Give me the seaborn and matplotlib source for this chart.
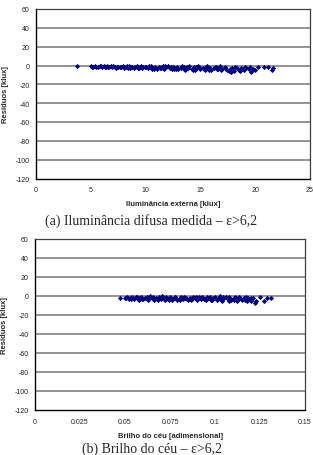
import matplotlib
matplotlib.use("Agg")
import matplotlib.pyplot as plt
import seaborn as sns
import pandas as pd

# ---- data ----
x_top = [3.7, 5.0, 5.2, 5.4, 5.5, 5.7, 5.9, 6.0, 6.2, 6.4,
         6.5, 6.7, 6.9, 7.0, 7.2, 7.4, 7.5, 7.7, 7.9, 8.0,
         8.2, 8.4, 8.5, 8.7, 8.9, 9.0, 9.2, 9.4, 9.5, 9.7,
         9.9, 10.0, 10.2, 10.4, 10.5, 10.7, 10.9, 11.0, 11.2, 11.4,
         11.5, 11.7, 11.9, 12.0, 12.2, 12.4, 12.5, 12.7, 12.9, 13.0,
         13.2, 13.4, 13.5, 13.7, 13.9, 14.0, 14.2, 14.4, 14.5, 14.7,
         14.9, 15.0, 15.2, 15.4, 15.5, 15.7, 15.9, 16.0, 16.2, 16.4,
         16.5, 16.7, 16.9, 17.0, 17.2, 17.4, 17.6, 17.8, 17.9, 18.1,
         18.3, 18.5, 18.6, 18.8, 19.0, 19.2, 19.4, 19.6, 19.8, 20.0,
         20.3, 20.8, 21.2, 21.5, 21.6,
         5.1, 5.8, 6.3, 6.8, 7.3, 7.8, 8.3, 8.8, 9.3, 9.8,
         10.3, 10.8, 11.3, 11.8, 12.3, 12.8, 13.3, 13.8, 14.3, 14.8,
         15.3, 15.8, 16.3, 16.8, 17.3, 17.7, 18.2, 18.7, 19.1, 19.5,
         6.6, 8.6, 10.6, 12.6, 14.6, 16.6, 9.6, 11.6, 13.6, 15.6]
y_top = [-0.3, -0.8, -1.3, -0.6, -1.1, -1.5, -0.9, -1.2, -0.7, -1.6,
         -1.0, -1.8, -1.2, -0.6, -1.5, -2.0, -1.1, -1.7, -0.8, -2.2,
         -1.4, -2.4, -1.0, -1.9, -2.6, -1.3, -0.7, -2.3, -1.7, -2.8,
         -1.1, -2.1, -3.0, -1.5, -0.8, -2.5, -1.9, -3.2, -1.2, -2.7,
         -2.0, -3.4, -1.5, -0.9, -2.6, -3.6, -1.8, -2.9, -1.2, -3.8,
         -2.3, -3.1, -1.6, -4.0, -2.7, -1.0, -3.4, -2.1, -4.3, -3.0,
         -1.8, -3.7, -2.5, -4.5, -1.3, -3.3, -2.2, -4.7, -3.0, -1.6,
         -4.0, -2.6, -5.0, -3.4, -1.9, -4.4, -6.0, -7.2, -3.0, -5.5,
         -2.2, -4.6, -6.3, -3.5, -5.2, -2.5, -4.0, -6.5, -3.3, -4.8,
         -2.0, -1.2, -1.8, -5.2, -3.0,
         -1.6, -0.5, -1.9, -0.9, -2.3, -1.3, -0.6, -1.6, -3.0, -2.0,
         -0.6, -3.4, -2.4, -0.7, -1.6, -4.0, -0.8, -2.0, -4.8, -0.9,
         -3.9, -5.2, -2.0, -0.8, -3.2, -4.2, -1.5, -2.8, -1.2, -2.0,
         -2.1, -2.8, -3.6, -4.2, -1.2, -3.6, -0.5, -1.0, -4.6, -0.7]

x_bot = [0.047, 0.050, 0.051, 0.052, 0.053, 0.054, 0.055, 0.056, 0.057, 0.058,
         0.059, 0.060, 0.061, 0.062, 0.063, 0.064, 0.065, 0.066, 0.067, 0.068,
         0.069, 0.070, 0.071, 0.072, 0.073, 0.074, 0.075, 0.076, 0.077, 0.078,
         0.079, 0.080, 0.081, 0.082, 0.083, 0.084, 0.085, 0.086, 0.087, 0.088,
         0.089, 0.090, 0.091, 0.092, 0.093, 0.094, 0.095, 0.096, 0.097, 0.098,
         0.099, 0.100, 0.101, 0.102, 0.103, 0.104, 0.105, 0.106, 0.107, 0.108,
         0.109, 0.110, 0.111, 0.112, 0.113, 0.114, 0.115, 0.116, 0.117, 0.118,
         0.119, 0.120, 0.120, 0.121, 0.122, 0.123, 0.125, 0.127, 0.129, 0.131,
         0.0505, 0.0535, 0.0565, 0.0595, 0.0625, 0.0655, 0.0685, 0.0715, 0.0745, 0.0775,
         0.0805, 0.0835, 0.0865, 0.0895, 0.0925, 0.0955, 0.0985, 0.1015, 0.1045, 0.1075,
         0.1105, 0.1135, 0.1165, 0.1185, 0.0575, 0.0705, 0.0845, 0.0945, 0.1025, 0.1125]
y_bot = [-1.6, -2.5, -1.0, -3.0, -1.8, -0.6, -2.7, -1.4, -3.3, -2.0,
         -0.8, -3.6, -2.3, -1.2, -3.0, -0.5, -2.6, -3.9, -1.6, -2.9,
         -0.9, -3.4, -2.1, -4.0, -1.3, -2.7, -0.6, -3.7, -2.2, -1.0,
         -4.2, -2.8, -1.5, -3.5, -0.7, -2.4, -4.4, -1.8, -3.1, -0.9,
         -2.6, -4.0, -1.4, -3.3, -0.6, -2.9, -4.5, -2.0, -1.1, -3.8,
         -2.5, -0.8, -4.2, -1.7, -3.0, -4.8, -2.2, -0.9, -3.6, -1.5,
         -4.4, -2.7, -1.0, -5.0, -3.2, -1.8, -4.6, -2.4, -0.8, -5.4,
         -3.5, -1.6, -4.8, -2.6, -7.0, -5.5, -1.2, -5.0, -1.8, -2.0,
         -1.9, -3.5, -0.9, -2.8, -4.1, -1.1, -3.9, -1.7, -4.3, -0.8,
         -3.9, -1.9, -4.6, -0.9, -2.3, -1.4, -4.7, -2.9, -1.2, -4.9,
         -3.8, -0.6, -3.9, -2.1, -4.0, -0.5, -3.3, -3.6, -0.5, -2.3]

y_ticks = [-120, -100, -80, -60, -40, -20, 0, 20, 40, 60]
x_ticks_top = [0, 5, 10, 15, 20, 25]
x_ticks_bot = [0, 0.025, 0.05, 0.075, 0.1, 0.125, 0.15]
x_ticklabels_bot = ["0", "0.025", "0.05", "0.075", "0.1", "0.125", "0.15"]

xlabel_top = "Iluminância externa [klux]"
xlabel_bot = "Brilho do céu [adimensional]"
ylabel = "Resíduos [klux]"
caption_top = "(a) Iluminância difusa medida – ε>6,2"
caption_bot = "(b) Brilho do céu – ε>6,2"

sns.set_style("white")
plt.rcParams['font.family'] = ['Liberation Sans', 'DejaVu Sans']

W, H = 313, 456
fig = plt.figure(figsize=(W / 100, H / 100), dpi=100)

def frac(l, t, r, b):
    return [l / W, 1 - b / H, (r - l) / W, (b - t) / H]

ax1 = fig.add_axes(frac(36, 10, 310, 179.5))
ax2 = fig.add_axes(frac(35, 240, 305, 411))

df_top = pd.DataFrame({"x": x_top, "y": y_top})
df_bot = pd.DataFrame({"x": x_bot, "y": y_bot})

for ax, df, xt, xtl, xl, xlim in [
    (ax1, df_top, x_ticks_top, [str(v) for v in x_ticks_top], xlabel_top, (0, 25)),
    (ax2, df_bot, x_ticks_bot, x_ticklabels_bot, xlabel_bot, (0, 0.15)),
]:
    for yv in y_ticks[1:-1]:
        ax.axhline(yv, color="#8a8a8a", lw=1.3, zorder=1)
    sns.scatterplot(data=df, x="x", y="y", ax=ax, marker="D", s=7,
                    color="#000080", linewidth=0, zorder=3, legend=False)
    ax.set_xlim(*xlim)
    ax.set_ylim(-120, 60)
    ax.set_yticks(y_ticks)
    ax.set_yticklabels([str(v) for v in y_ticks])
    ax.set_xticks(xt)
    ax.set_xticklabels(xtl)
    ax.tick_params(axis="both", labelsize=5, colors="#222222", direction="inout",
                   length=3, width=0.8, pad=4)
    ax.tick_params(axis="y", pad=3)
    for s in ["top", "right"]:
        ax.spines[s].set_color("#404040")
        ax.spines[s].set_linewidth(0.9)
    for s in ["left", "bottom"]:
        ax.spines[s].set_color("#000000")
        ax.spines[s].set_linewidth(1.0)
    ax.set_xlabel(xl, fontsize=5.5, fontweight="bold", labelpad=5)
    ax.set_ylabel(ylabel, fontsize=5.5, fontweight="bold", labelpad=5)

fig.text(151 / W, 1 - 221 / H, caption_top, ha="center", va="center",
         fontsize=10, family=["Liberation Serif", "DejaVu Serif"])
fig.text(152 / W, 1 - 449 / H, caption_bot, ha="center", va="center",
         fontsize=10, family=["Liberation Serif", "DejaVu Serif"])

fig.savefig("out.png", dpi=100)
